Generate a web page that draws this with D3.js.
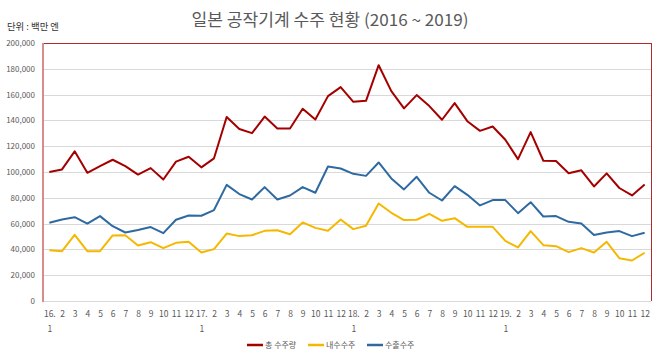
<!DOCTYPE html>
<html>
<head>
<meta charset="utf-8">
<script src="https://cdn.jsdelivr.net/npm/d3@7"></script>
<style>
  html, body { margin: 0; padding: 0; background: #fff; }
  svg { display: block; }
  text { font-family: "Noto Sans CJK KR", "Noto Sans", sans-serif; }
</style>
</head>
<body>
<svg id="chart" width="660" height="358"></svg>
<script>
// ---- Data (단위: 백만 엔) ----
const months = d3.range(48);
const xLabels1 = ["16.","2","3","4","5","6","7","8","9","10","11","12",
                  "17.","2","3","4","5","6","7","8","9","10","11","12",
                  "18.","2","3","4","5","6","7","8","9","10","11","12",
                  "19.","2","3","4","5","6","7","8","9","10","11","12"];
const xLabels2 = ["1","","","","","","","","","","","",
                  "1","","","","","","","","","","","",
                  "1","","","","","","","","","","","",
                  "1","","","","","","","","","","",""];
const totalOrders = [100000,102000,116000,99400,104500,109500,104500,98000,103000,94200,108000,111800,
                     103600,110600,142600,133300,130100,143000,133700,133700,149000,140700,158800,165800,
                     154400,155200,182800,162700,149300,159600,151100,140500,153400,139400,131900,135300,
                     125000,110000,130900,108700,108500,99100,101300,88800,98900,87600,81800,90300];
const domesticOrders = [39400,38600,51300,38600,38600,50800,51000,43000,45600,41000,45100,45900,
                        37600,40200,52300,50300,51000,54400,54900,51800,60900,56700,54400,63200,
                        55700,58300,75600,68400,62700,63000,67600,62200,64200,57500,57500,57500,
                        46600,41500,54200,43300,42500,37900,41000,37600,45900,33200,31400,37400];
const exportOrders = [60600,63200,65000,60000,65800,58000,53100,55000,57300,52600,63000,66300,
                      66100,70500,90000,82900,78700,88300,78700,81800,88300,83900,104300,102700,
                      98600,97000,107400,95000,86500,96300,83900,77900,89000,82300,74100,78200,
                      78200,68100,76600,65500,65800,61400,60100,51100,53100,54200,50300,52900];
const yTicks = [0,20000,40000,60000,80000,100000,120000,140000,160000,180000,200000];
const seriesNames = ["총 수주량","내수수주","수출수주"];
const seriesColors = ["#a50000","#f5b800","#2e6aa1"];
const seriesValues = [totalOrders, domesticOrders, exportOrders];

// ---- Layout ----
const svg = d3.select("#chart");
const pLeft = 43, pRight = 651, pTop = 43, pBottom = 301;

const x = d3.scalePoint().domain(months).range([pLeft, pRight]).padding(0.5);
const y = d3.scaleLinear().domain([0, 200000]).range([pBottom, pTop]);

// title
svg.append("text")
  .attr("x", 330).attr("y", 26)
  .attr("text-anchor", "middle")
  .attr("font-size", 16.5)
  .attr("fill", "#595959")
  .attr("textLength", 277).attr("lengthAdjust", "spacingAndGlyphs")
  .text("일본 공작기계 수주 현황 (2016 ~ 2019)");

// unit label
svg.append("text")
  .attr("x", 7).attr("y", 30)
  .attr("font-size", 9.5)
  .attr("fill", "#333")
  .attr("textLength", 52).attr("lengthAdjust", "spacingAndGlyphs")
  .text("단위 : 백만 엔");

// gridlines
svg.append("g").selectAll("line")
  .data(yTicks.filter(d => d > 0 && d < 200000))
  .join("line")
  .attr("x1", pLeft).attr("x2", pRight)
  .attr("y1", d => Math.round(y(d)) + 0.5).attr("y2", d => Math.round(y(d)) + 0.5)
  .attr("stroke", "#d9d9d9").attr("stroke-width", 1);

// bottom axis line
svg.append("line")
  .attr("x1", pLeft).attr("x2", pRight)
  .attr("y1", pBottom + 0.5).attr("y2", pBottom + 0.5)
  .attr("stroke", "#d9d9d9");

// frame: top and right in dark red, left pinkish
svg.append("line").attr("x1", pLeft).attr("x2", pRight + 0.5)
  .attr("y1", pTop + 0.5).attr("y2", pTop + 0.5)
  .attr("stroke", "#b22a2a").attr("stroke-width", 1);
svg.append("line").attr("x1", pRight + 0.5).attr("x2", pRight + 0.5)
  .attr("y1", pTop).attr("y2", pBottom)
  .attr("stroke", "#b22a2a").attr("stroke-width", 1);
svg.append("line").attr("x1", pLeft).attr("x2", pLeft)
  .attr("y1", pTop).attr("y2", pBottom + 1)
  .attr("stroke", "#d98c8c").attr("stroke-width", 2);

// y axis labels
const yAxis = d3.axisLeft(y).tickValues(yTicks).tickSize(0).tickPadding(8)
  .tickFormat(d3.format(","));
const gy = svg.append("g").attr("transform", `translate(${pLeft},0)`).call(yAxis);
gy.select(".domain").remove();
gy.selectAll("text").attr("font-size", 8).attr("fill", "#595959")
  .attr("font-family", "\"Noto Sans\", sans-serif");

// x axis labels
const xAxis = d3.axisBottom(x).tickSize(0).tickPadding(10)
  .tickFormat(i => xLabels1[i]);
const gx = svg.append("g").attr("transform", `translate(0,${pBottom})`).call(xAxis);
gx.select(".domain").remove();
gx.selectAll("text").attr("font-size", 8.5).attr("fill", "#595959")
  .attr("font-family", "\"Noto Sans\", sans-serif");
gx.selectAll(".tick").append("text")
  .attr("y", 31).attr("text-anchor", "middle")
  .attr("font-size", 8.5).attr("fill", "#595959")
  .attr("font-family", "\"Noto Sans\", sans-serif")
  .text(i => xLabels2[i]);

// lines
const lineGen = d3.line().x((d, i) => x(i)).y(d => y(d));
svg.append("g").selectAll("path")
  .data(seriesValues.map((v, k) => ({v, k})).reverse())
  .join("path")
  .attr("d", d => lineGen(d.v))
  .attr("fill", "none")
  .attr("stroke", d => seriesColors[d.k])
  .attr("stroke-width", 2)
  .attr("stroke-linejoin", "round");

// legend
const legendX = [247, 308, 367];
const lg = svg.append("g").selectAll("g")
  .data(seriesNames).join("g")
  .attr("transform", (d, i) => `translate(${legendX[i]},345)`);
lg.append("line").attr("x1", 0).attr("x2", 16).attr("y1", 0).attr("y2", 0)
  .attr("stroke", (d, i) => seriesColors[i]).attr("stroke-width", 2.5);
lg.append("text").attr("x", 18).attr("y", 3)
  .attr("font-size", 8).attr("fill", "#595959")
  .text(d => d);
</script>
</body>
</html>
